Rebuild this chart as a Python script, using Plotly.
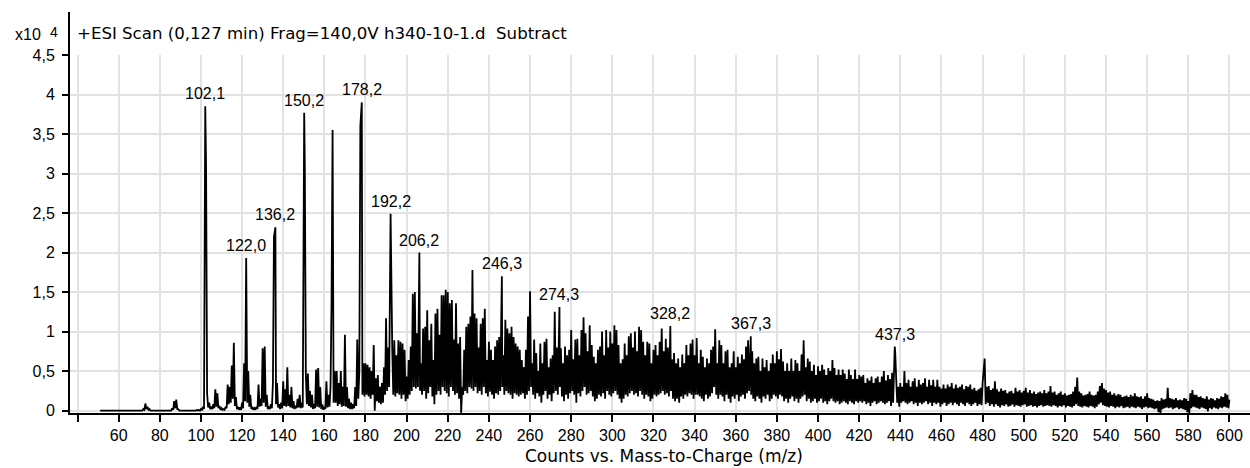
import plotly.graph_objects as go

# Profile intensities in units of 10^4 counts.
# apex_*  : apex height at each nominal m/z
# trough_*: level reached half a unit later, before the next apex
apex_051_099 = [
    0, 0, 0, 0, 0, 0, 0, 0, 0,
    0, 0, 0, 0, 0, 0, 0, 0, 0, 0,
    0, 0, 0.02, 0.09, 0.05, 0.02, 0, 0, 0, 0,
    0, 0, 0, 0, 0, 0, 0.03, 0.12, 0.14, 0.02,
    0, 0, 0, 0, 0, 0, 0, 0, 0.01, 0.01,
]
trough_051_099 = [
    0, 0, 0, 0, 0, 0, 0, 0, 0,
    0, 0, 0, 0, 0, 0, 0, 0, 0, 0,
    0, 0, 0.01, 0.02, 0.01, 0, 0, 0, 0, 0,
    0, 0, 0, 0, 0, 0, 0.01, 0.03, 0.02, 0,
    0, 0, 0, 0, 0, 0, 0, 0, 0, 0,
]

apex_100_179 = [
    0.02, 0.05, 3.85, 0.22, 0.10, 0.05, 0.08, 0.27, 0.22, 0.06,
    0.03, 0.02, 0.05, 0.33, 0.30, 0.57, 0.86, 0.17, 0.05, 0.04,
    0.10, 0.60, 1.93, 0.50, 0.20, 0.05, 0.03, 0.05, 0.33, 0.15,
    0.79, 0.81, 0.20, 0.05, 0.08, 0.35, 2.32, 0.35, 0.08, 0.10,
    0.37, 0.27, 0.55, 0.20, 0.30, 0.12, 0.06, 0.15, 0.20, 0.10,
    3.77, 0.45, 0.47, 0.25, 0.20, 0.08, 0.52, 0.54, 0.30, 0.08,
    0.05, 0.37, 0.20, 0.30, 3.55, 0.50, 0.50, 0.35, 0.50, 0.30,
    0.96, 0.30, 0.15, 0.10, 0.08, 0.30, 0.90, 0.50, 3.90, 0.60,
]
trough_100_179 = [
    0.01, 0.02, 3.11, 0.04, 0.02, 0.02, 0.03, 0.05, 0.03, 0.01,
    0.01, 0.01, 0.03, 0.08, 0.10, 0.15, 0.06, 0.02, 0.01, 0.01,
    0.03, 0.12, 0.10, 0.05, 0.02, 0.01, 0.01, 0.02, 0.05, 0.06,
    0.10, 0.05, 0.02, 0.02, 0.03, 2.20, 0.08, 0.04, 0.02, 0.03,
    0.06, 0.05, 0.06, 0.04, 0.03, 0.02, 0.03, 0.04, 0.03, 0.04,
    3.11, 0.08, 0.06, 0.04, 0.02, 0.03, 0.05, 0.04, 0.02, 0.01,
    0.02, 0.04, 0.05, 1.40, 0.10, 0.10, 0.06, 0.08, 0.05, 0.06,
    0.05, 0.03, 0.02, 0.02, 0.03, 0.06, 0.15, 3.60, 0.20, 0.18,
]

apex_180_259 = [
    0.60, 0.58, 0.55, 0.50, 0.83, 0.41, 0.45, 0.30, 0.35, 0.55,
    1.17, 0.80, 2.49, 0.80, 0.89, 0.70, 0.89, 0.87, 0.85, 0.77,
    0.43, 0.64, 0.81, 1.48, 1.50, 0.98, 2.00, 0.60, 1.04, 1.06,
    1.27, 0.89, 1.10, 0.64, 1.23, 1.29, 0.96, 1.46, 1.46, 1.53,
    1.50, 1.36, 1.40, 0.90, 1.36, 0.85, 0.93, 0.30, 0.77, 1.06,
    1.10, 1.19, 1.78, 1.23, 1.17, 0.80, 1.10, 1.17, 1.29, 0.64,
    0.87, 0.77, 0.64, 0.81, 0.89, 0.93, 1.70, 0.70, 1.15, 1.04,
    0.98, 1.06, 0.93, 0.85, 0.81, 0.77, 0.64, 0.55, 0.77, 1.19,
]
trough_180_259 = [
    0.20, 0.18, 0.15, 0.20, 0.00, 0.12, 0.10, 0.08, 0.10, 0.20,
    0.25, 0.30, 1.74, 0.20, 0.18, 0.22, 0.20, 0.15, 0.20, 0.12,
    0.15, 0.20, 0.25, 0.30, 0.28, 0.30, 0.25, 0.20, 0.25, 0.15,
    0.22, 0.30, 0.18, 0.08, 0.20, 0.25, 0.20, 0.30, 0.25, 0.22,
    0.18, 0.30, 0.25, 0.20, 0.22, 0.15, -0.03, 0.20, 0.25, 0.22,
    0.30, 0.28, 0.25, 0.30, 0.22, 0.25, 0.20, 0.30, 0.22, 0.18,
    0.24, 0.20, 0.15, 0.22, 0.20, 0.25, 0.30, 0.20, 0.25, 0.22,
    0.20, 0.15, 0.22, 0.20, 0.18, 0.20, 0.22, 0.15, 0.20, 0.25,
]

apex_260_339 = [
    1.51, 0.60, 0.90, 0.73, 0.50, 0.85, 0.60, 0.87, 0.91, 0.55,
    0.66, 0.70, 1.25, 0.80, 1.31, 0.79, 0.60, 0.81, 0.70, 0.77,
    1.02, 0.65, 0.90, 0.91, 0.70, 1.02, 1.18, 0.98, 0.75, 1.08,
    0.83, 0.68, 0.60, 0.77, 0.81, 1.00, 0.70, 1.02, 0.80, 1.00,
    0.85, 1.08, 1.02, 0.83, 0.60, 0.65, 0.85, 0.70, 0.94, 0.98,
    0.80, 1.00, 0.75, 1.06, 1.02, 0.87, 0.70, 0.87, 0.85, 0.60,
    0.77, 0.83, 0.70, 0.87, 1.04, 0.75, 0.91, 0.80, 1.07, 0.65,
    0.73, 0.60, 0.66, 0.55, 0.71, 0.60, 0.83, 0.70, 0.85, 0.90,
]
trough_260_339 = [
    0.30, 0.20, 0.15, 0.22, 0.18, 0.10, 0.20, 0.25, 0.15, 0.20,
    0.12, 0.22, 0.25, 0.20, 0.30, 0.18, 0.12, 0.20, 0.15, 0.22,
    0.25, 0.20, 0.10, 0.22, 0.18, 0.25, 0.30, 0.20, 0.22, 0.25,
    0.18, 0.12, 0.15, 0.20, 0.18, 0.22, 0.15, 0.25, 0.20, 0.18,
    0.22, 0.25, 0.20, 0.15, 0.10, 0.15, 0.20, 0.18, 0.22, 0.25,
    0.20, 0.22, 0.18, 0.25, 0.20, 0.15, 0.20, 0.18, 0.12, 0.15,
    0.20, 0.18, 0.20, 0.22, 0.25, 0.20, 0.22, 0.18, 0.25, 0.15,
    0.12, 0.15, 0.10, 0.18, 0.15, 0.20, 0.18, 0.22, 0.20, 0.15,
]

apex_340_419 = [
    0.70, 0.92, 0.60, 0.77, 0.68, 0.55, 0.66, 0.60, 0.77, 0.81,
    1.03, 0.60, 0.89, 0.83, 0.60, 0.75, 0.77, 0.55, 0.60, 0.75,
    0.55, 0.68, 0.60, 0.71, 0.65, 0.81, 0.89, 0.94, 0.75, 0.60,
    0.66, 0.68, 0.50, 0.66, 0.55, 0.64, 0.50, 0.60, 0.71, 0.60,
    0.75, 0.65, 0.78, 0.62, 0.50, 0.60, 0.50, 0.66, 0.50, 0.64,
    0.60, 0.50, 0.71, 0.89, 0.55, 0.66, 0.62, 0.50, 0.58, 0.45,
    0.56, 0.50, 0.58, 0.52, 0.45, 0.54, 0.50, 0.64, 0.54, 0.45,
    0.52, 0.45, 0.52, 0.47, 0.40, 0.52, 0.45, 0.40, 0.52, 0.40,
]
trough_340_419 = [
    0.20, 0.20, 0.18, 0.15, 0.12, 0.20, 0.15, 0.18, 0.22, 0.30,
    0.20, 0.15, 0.20, 0.18, 0.12, 0.20, 0.15, 0.10, 0.18, 0.15,
    0.20, 0.12, 0.18, 0.20, 0.15, 0.22, 0.25, 0.20, 0.15, 0.12,
    0.18, 0.15, 0.10, 0.18, 0.15, 0.20, 0.12, 0.15, 0.20, 0.18,
    0.15, 0.20, 0.18, 0.12, 0.15, 0.10, 0.15, 0.18, 0.12, 0.15,
    0.10, 0.15, 0.18, 0.20, 0.12, 0.15, 0.10, 0.12, 0.15, 0.10,
    0.12, 0.15, 0.10, 0.12, 0.08, 0.12, 0.15, 0.12, 0.10, 0.12,
    0.08, 0.10, 0.12, 0.10, 0.08, 0.12, 0.10, 0.08, 0.12, 0.10,
]

apex_420_509 = [
    0.45, 0.43, 0.45, 0.35, 0.41, 0.38, 0.43, 0.35, 0.41, 0.43,
    0.36, 0.43, 0.50, 0.38, 0.45, 0.40, 0.48, 0.81, 0.40, 0.30,
    0.35, 0.30, 0.50, 0.35, 0.39, 0.30, 0.37, 0.41, 0.30, 0.39,
    0.33, 0.35, 0.41, 0.30, 0.39, 0.32, 0.39, 0.30, 0.39, 0.30,
    0.28, 0.33, 0.28, 0.33, 0.30, 0.35, 0.28, 0.33, 0.29, 0.30,
    0.33, 0.27, 0.31, 0.30, 0.33, 0.27, 0.29, 0.25, 0.27, 0.29,
    0.35, 0.66, 0.30, 0.31, 0.26, 0.28, 0.37, 0.27, 0.24, 0.28,
    0.25, 0.26, 0.22, 0.24, 0.25, 0.22, 0.29, 0.24, 0.26, 0.23,
    0.25, 0.29, 0.23, 0.26, 0.22, 0.24, 0.21, 0.23, 0.24, 0.22,
]
trough_420_509 = [
    0.12, 0.10, 0.12, 0.08, 0.10, 0.06, 0.10, 0.12, 0.08, 0.10,
    0.12, 0.10, 0.08, 0.10, 0.12, 0.06, 0.10, 0.75, 0.10, 0.05,
    0.10, 0.12, 0.10, 0.08, 0.10, 0.12, 0.08, 0.10, 0.06, 0.10,
    0.08, 0.10, 0.12, 0.08, 0.10, 0.06, 0.10, 0.08, 0.10, 0.05,
    0.08, 0.10, 0.06, 0.08, 0.10, 0.07, 0.10, 0.08, 0.06, 0.10,
    0.08, 0.06, 0.10, 0.08, 0.06, 0.08, 0.10, 0.06, 0.08, 0.07,
    0.50, 0.08, 0.10, 0.06, 0.08, 0.05, 0.08, 0.06, 0.04, 0.07,
    0.06, 0.08, 0.05, 0.06, 0.08, 0.05, 0.07, 0.06, 0.05, 0.07,
    0.08, 0.05, 0.06, 0.07, 0.05, 0.06, 0.04, 0.06, 0.07, 0.05,
]

apex_510_600 = [
    0.26, 0.22, 0.24, 0.31, 0.23, 0.24, 0.20, 0.22, 0.24, 0.20,
    0.22, 0.19, 0.20, 0.21, 0.24, 0.30, 0.42, 0.24, 0.22, 0.19,
    0.20, 0.21, 0.24, 0.20, 0.19, 0.20, 0.24, 0.31, 0.35, 0.28,
    0.26, 0.23, 0.24, 0.20, 0.22, 0.19, 0.21, 0.20, 0.17, 0.18,
    0.19, 0.17, 0.20, 0.18, 0.22, 0.18, 0.17, 0.18, 0.15, 0.18,
    0.22, 0.16, 0.15, 0.14, 0.12, 0.13, 0.12, 0.16, 0.14, 0.15,
    0.29, 0.16, 0.15, 0.14, 0.16, 0.13, 0.14, 0.13, 0.16, 0.15,
    0.12, 0.22, 0.26, 0.20, 0.20, 0.17, 0.18, 0.16, 0.15, 0.18,
    0.14, 0.16, 0.15, 0.13, 0.16, 0.15, 0.18, 0.17, 0.22, 0.20,
    0.14,
]
trough_510_600 = [
    0.06, 0.07, 0.06, 0.05, 0.07, 0.06, 0.04, 0.06, 0.05, 0.07,
    0.04, 0.06, 0.05, 0.04, 0.06, 0.08, 0.06, 0.05, 0.04, 0.06,
    0.05, 0.04, 0.06, 0.05, 0.03, 0.05, 0.08, 0.10, 0.07, 0.06,
    0.05, 0.04, 0.06, 0.05, 0.03, 0.05, 0.04, 0.06, 0.03, 0.04,
    0.05, 0.03, 0.05, 0.04, 0.03, 0.05, 0.04, 0.02, 0.04, 0.05,
    0.03, 0.04, 0.03, 0.02, 0.03, -0.02, -0.03, 0.02, 0.03, 0.04,
    0.03, 0.04, 0.02, 0.03, 0.04, 0.02, 0.03, 0.02, 0.01, -0.02,
    -0.03, 0.03, 0.05, 0.04, 0.03, 0.02, 0.04, 0.03, 0.02, -0.01,
    0.03, 0.02, 0.04, 0.03, 0.02, 0.04, 0.03, 0.05, 0.04, 0.03,
    0.02,
]

# annotated peaks (m/z)
label_mz = [102.1, 122.0, 136.2, 150.2, 178.2, 192.2, 206.2,
            246.3, 274.3, 328.2, 367.3, 437.3]

y_tickvals = [0, 0.5, 1, 1.5, 2, 2.5, 3, 3.5, 4, 4.5]
y_ticktext = ["0", "0,5", "1", "1,5", "2", "2,5", "3", "3,5", "4", "4,5"]
x_tickvals = list(range(40, 601, 20))
x_ticktext = [""] + [str(v) for v in x_tickvals[1:]]

apex = (apex_051_099 + apex_100_179 + apex_180_259 + apex_260_339
        + apex_340_419 + apex_420_509 + apex_510_600)
trough = (trough_051_099 + trough_100_179 + trough_180_259 + trough_260_339
          + trough_340_419 + trough_420_509 + trough_510_600)
nominal = list(range(51, 601))
assert len(apex) == len(nominal) == len(trough)

# accurate m/z for the annotated peaks
accurate = {round(v): v for v in label_mz}

mz_pts, int_pts = [], []
for m, a, t in zip(nominal, apex, trough):
    mz_pts.append(accurate.get(m, m))
    int_pts.append(a)
    if m < 600:
        mz_pts.append(m + 0.5)
        int_pts.append(t)

# plot-area geometry in pixels
W, H = 1250, 468
L, R, T, B = 70, 1250, 55, 413.4


def px(x):
    return (x - L) / (R - L)


def py(y):
    return (B - y) / (B - T)


TICK_FONT = dict(family="Liberation Sans, Arial, sans-serif", size=16, color="#000000")
TITLE_FONT = dict(family="DejaVu Sans, sans-serif", size=16.6, color="#000000")
AXIS_FONT = dict(family="DejaVu Sans, sans-serif", size=17, color="#000000")

fig = go.Figure()
fig.add_trace(go.Scatter(
    x=mz_pts, y=int_pts, mode="lines",
    line=dict(color="#000000", width=1.8),
    hoverinfo="skip", showlegend=False,
))

annotations = []
for v in label_mz:
    h = apex[nominal.index(round(v))]
    annotations.append(dict(
        x=v, y=h, xref="x", yref="y", text=f"{v:.1f}".replace(".", ","),
        showarrow=False, xanchor="center", yanchor="bottom", yshift=2,
        font=TICK_FONT,
    ))

annotations += [
    dict(x=px(75), y=py(33), xref="paper", yref="paper", xanchor="left",
         yanchor="middle", showarrow=False, font=TITLE_FONT,
         text="+ESI Scan (0,127 min) Frag=140,0V h340-10-1.d \u00a0Subtract"),
    dict(x=px(43), y=py(34), xref="paper", yref="paper", xanchor="right",
         yanchor="middle", showarrow=False, font=TICK_FONT, text="x10"),
    dict(x=px(48), y=py(32), xref="paper", yref="paper", xanchor="left",
         yanchor="middle", showarrow=False,
         font=dict(family=TICK_FONT["family"], size=14, color="#000000"), text="4"),
    dict(x=px(664), y=py(456), xref="paper", yref="paper", xanchor="center",
         yanchor="middle", showarrow=False, font=AXIS_FONT,
         text="Counts vs. Mass-to-Charge (m/z)"),
]

fig.update_layout(
    width=W, height=H,
    margin=dict(l=L, r=W - R, t=T, b=H - B, pad=0),
    paper_bgcolor="#ffffff", plot_bgcolor="#ffffff",
    annotations=annotations,
    shapes=[dict(type="line", xref="paper", yref="paper",
                 x0=px(69), x1=px(69), y0=1, y1=py(12),
                 line=dict(color="#000000", width=2))],
    xaxis=dict(
        range=[36.35, 610], tickvals=x_tickvals, ticktext=x_ticktext,
        showgrid=True, gridcolor="#e2e2e2", gridwidth=2,
        zeroline=False, showline=True, linecolor="#000000", linewidth=2,
        ticks="outside", ticklen=7, tickwidth=2, tickcolor="#000000",
        tickfont=TICK_FONT,
    ),
    yaxis=dict(
        range=[-0.03, 4.5], tickvals=y_tickvals, ticktext=y_ticktext,
        showgrid=True, gridcolor="#e2e2e2", gridwidth=2,
        zeroline=False, showline=True, linecolor="#000000", linewidth=2,
        ticks="outside", ticklen=6, tickwidth=2, tickcolor="#000000",
        tickfont=TICK_FONT, ticklabelstandoff=4,
    ),
)

fig.write_html("out.html")
